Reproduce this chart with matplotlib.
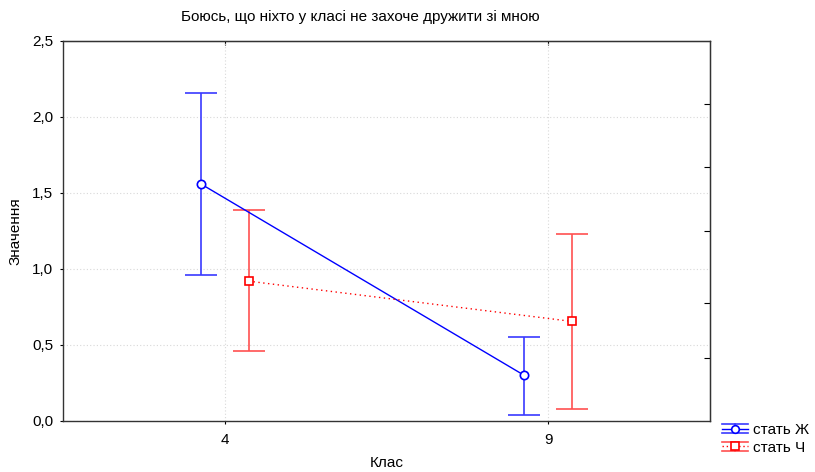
import matplotlib
matplotlib.use("Agg")
import matplotlib.pyplot as plt
from matplotlib.lines import Line2D
from matplotlib.legend_handler import HandlerBase

plt.rcParams['font.family'] = ['Liberation Sans', 'DejaVu Sans']

# data
classes = ["4", "9"]
zh_mean = [1.56, 0.30]
zh_low = [0.96, 0.04]
zh_high = [2.16, 0.555]
ch_mean = [0.92, 0.655]
ch_low = [0.46, 0.08]
ch_high = [1.39, 1.23]
series_names = ["стать Ж", "стать Ч"]
right_ticks = [2.086, 1.671, 1.25, 0.776, 0.414]

fig = plt.figure(figsize=(8.15, 4.72), dpi=100)
ax = fig.add_axes([63/815, 51/472, 647/815, 380/472])

pos = list(range(len(classes)))
off = 0.074
x_zh = [p - off for p in pos]
x_ch = [p + off for p in pos]

# error bars
ax.errorbar(x_zh, zh_mean,
            yerr=[[m - l for m, l in zip(zh_mean, zh_low)], [h - m for m, h in zip(zh_mean, zh_high)]],
            fmt="none", ecolor="#3a3aff", elinewidth=1.2, capsize=11.5, capthick=1.2, zorder=2)
ax.errorbar(x_ch, ch_mean,
            yerr=[[m - l for m, l in zip(ch_mean, ch_low)], [h - m for m, h in zip(ch_mean, ch_high)]],
            fmt="none", ecolor="#ff5050", elinewidth=1.2, capsize=11.5, capthick=1.2, zorder=2)

# mean lines
ax.plot(x_zh, zh_mean, color="#0000ff", linewidth=1, linestyle="-",
        marker="o", markersize=6, markerfacecolor="white", markeredgecolor="#0000ff",
        markeredgewidth=1.2, zorder=3)
ax.plot(x_ch, ch_mean, color="#ff0000", linewidth=1, linestyle=(0, (1, 2.5)),
        marker="s", markersize=5.5, markerfacecolor="white", markeredgecolor="#ff0000",
        markeredgewidth=1.2, zorder=3)

ax.set_xlim(-0.5, 1.5)
ax.set_ylim(0, 2.5)
ax.set_xticks(pos)
ax.set_xticklabels(classes)
ax.set_yticks([0, 0.5, 1.0, 1.5, 2.0, 2.5])
ax.set_yticklabels(["0,0", "0,5", "1,0", "1,5", "2,0", "2,5"])
ax.tick_params(axis="both", labelsize=11, length=2, width=0.8, direction="out", pad=5)
ax.tick_params(axis="x", pad=7)
ax.grid(True, color="#d8d8d8", linestyle=(0, (1, 2)), linewidth=0.8)
for s in ax.spines.values():
    s.set_linewidth(1.0)
    s.set_color("#333333")

# top ticks at categories, right ticks inward
top = ax.secondary_xaxis("top")
top.set_xticks(pos)
top.set_xticklabels([])
top.tick_params(direction="in", length=3, width=0.8)
right = ax.secondary_yaxis("right")
right.set_yticks(right_ticks)
right.set_yticklabels([])
right.tick_params(direction="in", length=4, width=0.8)

ax.set_xlabel("Клас", fontsize=11, labelpad=6)
ax.set_ylabel("Значення", fontsize=11, labelpad=7)
fig.text(360/815, 1 - 17/472, "Боюсь, що ніхто у класі не захоче дружити зі мною",
         ha="center", va="center", fontsize=11)


class ErrHandler(HandlerBase):
    def __init__(self, color, ls, marker, ecolor):
        super().__init__()
        self.color = color
        self.ls = ls
        self.marker = marker
        self.ecolor = ecolor

    def create_artists(self, legend, orig_handle, xd, yd, w, h, fs, trans):
        arts = []
        yc = h / 2 - yd
        for yy in (yc + h * 0.45, yc - h * 0.45):
            arts.append(Line2D([-xd, -xd + w], [yy, yy], color=self.ecolor, lw=1.2, transform=trans))
        arts.append(Line2D([-xd, -xd + w], [yc, yc], color=self.color, lw=1, linestyle=self.ls, transform=trans))
        arts.append(Line2D([-xd + w / 2, -xd + w / 2], [yc - h * 0.45, yc + h * 0.45], color=self.ecolor, lw=1.2, transform=trans))
        arts.append(Line2D([-xd + w / 2], [yc], marker=self.marker, markersize=5.5, markerfacecolor="white",
                           markeredgecolor=self.color, markeredgewidth=1.2, linestyle="none", transform=trans))
        return arts


h1 = Line2D([], [])
h2 = Line2D([], [])
fig.legend([h1, h2], series_names, loc="upper left", bbox_to_anchor=(722/815, 1 - 423/472),
           frameon=False, fontsize=11, handlelength=1.7, handletextpad=0.3, labelspacing=0.25,
           borderpad=0.0, borderaxespad=0.0,
           handler_map={h1: ErrHandler("#0000ff", "-", "o", "#3a3aff"),
                        h2: ErrHandler("#ff0000", (0, (1, 2)), "s", "#ff5050")})

fig.savefig("out.png", dpi=100)
